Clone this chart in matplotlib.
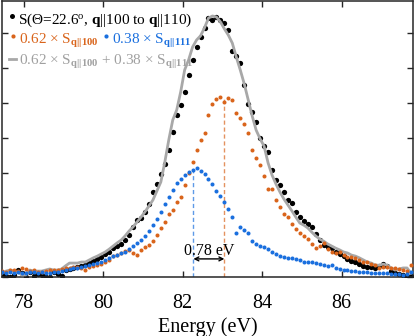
import matplotlib
matplotlib.use('Agg')
import matplotlib.pyplot as plt
import numpy as np
from matplotlib.lines import Line2D

plt.rcParams['font.family'] = ['Liberation Serif', 'DejaVu Serif']
plt.rcParams['mathtext.fontset'] = 'custom'
plt.rcParams['mathtext.rm'] = 'Liberation Serif'
plt.rcParams['mathtext.it'] = 'Liberation Serif:italic'
plt.rcParams['mathtext.bf'] = 'Liberation Serif:bold'

# energy axis (eV), evenly sampled
energy = np.linspace(77.45, 87.75, 104)

# measured spectrum S(theta=22.6, q||100 to q||110)
black = [0.09, 0.03, 0.00, 0.06, 0.20, 0.11, 0.00, 0.14, 0.03, 0.09,
         0.06, 0.00, 0.00, 0.14, 0.09, 0.03, 0.20, 0.23, 0.26, 0.29,
         0.32, 0.34, 0.40, 0.46, 0.52, 0.57, 0.66, 0.72, 0.83, 0.89,
         0.95, 1.06, 1.21, 1.44, 1.64, 1.70, 1.87, 2.10, 2.44, 2.67,
         2.96, 3.25, 3.65, 4.17, 4.66, 4.94, 5.32, 5.80, 6.24, 6.61,
         6.90, 7.16, 7.44, 7.39, 7.47, 7.39, 7.30, 7.10, 6.49, 6.35,
         6.15, 5.52, 4.97, 4.74, 4.45, 3.99, 3.76, 3.59, 3.07, 2.79,
         2.64, 2.44, 2.21, 2.13, 1.87, 1.72, 1.61, 1.52, 1.44, 1.24,
         1.06, 0.92, 0.86, 0.83, 0.72, 0.66, 0.60, 0.52, 0.46, 0.43,
         0.37, 0.32, 0.29, 0.29, 0.26, 0.32, 0.37, 0.32, 0.17, 0.11,
         0.09, 0.06, 0.00, 0.03]

# 0.62 x S_q||100
orange = [0.17, 0.14, 0.20, 0.20, 0.17, 0.26, 0.23, 0.17, 0.20, 0.14,
          0.14, 0.17, 0.20, 0.20, 0.20, 0.23, 0.26, 0.26, 0.29, 0.29,
          0.26, 0.20, 0.29, 0.32, 0.34, 0.37, 0.43, 0.49, 0.60, 0.63,
          0.69, 0.75, 0.78, 0.69, 0.63, 0.78, 0.86, 0.92, 1.03, 1.21,
          1.41, 1.58, 1.81, 1.93, 2.16, 2.30, 2.64, 2.99, 3.30, 3.65,
          3.94, 4.14, 4.66, 4.97, 5.11, 5.17, 5.03, 5.14, 5.09, 4.71,
          4.57, 4.40, 4.14, 3.65, 3.42, 3.22, 2.90, 2.53, 2.53, 2.21,
          2.01, 1.81, 1.72, 1.52, 1.38, 1.26, 1.18, 1.09, 0.95, 0.83,
          0.89, 0.98, 0.80, 0.72, 0.69, 0.72, 0.63, 0.57, 0.57, 0.55,
          0.49, 0.43, 0.43, 0.37, 0.34, 0.26, 0.29, 0.29, 0.26, 0.26,
          0.23, 0.20, 0.17, 0.34]

# 0.38 x S_q||111
blue = [0.14, 0.11, 0.14, 0.11, 0.14, 0.11, 0.11, 0.14, 0.14, 0.11,
        0.14, 0.11, 0.11, 0.14, 0.14, 0.17, 0.20, 0.23, 0.26, 0.26,
        0.29, 0.32, 0.34, 0.37, 0.40, 0.43, 0.49, 0.55, 0.60, 0.63,
        0.69, 0.72, 0.80, 0.89, 0.98, 1.06, 1.18, 1.32, 1.49, 1.67,
        1.87, 2.10, 2.30, 2.50, 2.70, 2.82, 2.93, 3.02, 3.07, 3.13,
        3.05, 2.96, 2.82, 2.67, 2.47, 2.33, 2.16, 1.95, 1.72, 1.26,
        1.44, 1.35, 1.26, 1.03, 0.95, 0.89, 0.86, 0.80, 0.72, 0.66,
        0.60, 0.57, 0.55, 0.55, 0.52, 0.49, 0.43, 0.43, 0.43, 0.40,
        0.37, 0.34, 0.32, 0.34, 0.26, 0.23, 0.20, 0.20, 0.17, 0.17,
        0.14, 0.14, 0.14, 0.11, 0.11, 0.11, 0.11, 0.11, 0.09, 0.09,
        0.09, 0.06, 0.09, 0.14]

# fit 0.62 x S_q||100 + 0.38 x S_q||111
gray = [0.11, 0.17, 0.20, 0.17, 0.14, 0.06, 0.06, 0.20, 0.17, 0.17,
        0.17, 0.20, 0.23, 0.20, 0.20, 0.23, 0.32, 0.40, 0.40, 0.40,
        0.43, 0.43, 0.49, 0.55, 0.60, 0.66, 0.72, 0.80, 0.89, 0.98,
        1.06, 1.18, 1.32, 1.44, 1.58, 1.72, 1.87, 2.04, 2.21, 2.47,
        2.73, 3.30, 3.94, 4.51, 4.80, 5.32, 5.95, 6.24, 6.61, 6.81,
        6.93, 7.16, 7.44, 7.50, 7.47, 7.33, 7.13, 6.95, 6.72, 6.32,
        5.95, 5.55, 5.09, 4.63, 4.22, 3.97, 3.76, 3.28, 2.93, 2.67,
        2.44, 2.24, 2.07, 1.90, 1.72, 1.55, 1.49, 1.41, 1.29, 1.18,
        1.09, 1.03, 0.95, 0.89, 0.83, 0.78, 0.72, 0.69, 0.63, 0.60,
        0.55, 0.49, 0.43, 0.40, 0.34, 0.34, 0.37, 0.34, 0.26, 0.20,
        0.23, 0.26, 0.26, 0.11]

# peak positions (eV)
peak_111 = 82.27
peak_100 = 83.05

c_orange = '#D9641B'
c_blue = '#1A6FDE'
c_gray = '#A8A8A8'
c_gray_txt = '#A0A0A0'

W, H = 415, 336
fig = plt.figure(figsize=(W / 100, H / 100), dpi=100)
ax = fig.add_axes([2 / W, 59 / H, 411 / W, 276 / H])

ax.plot(energy, gray, '-', color=c_gray, lw=2.0, zorder=3)
ax.plot(energy, orange, 'o', color=c_orange, ms=2.9, mew=0, zorder=4)
ax.plot(energy, blue, 'o', color=c_blue, ms=2.9, mew=0, zorder=4)
ax.plot(energy, black, 'o', color='k', ms=3.8, mew=0, zorder=2)

ax.vlines(peak_111, 0, max(blue), colors=c_blue, linestyles=(0, (3, 2)), lw=1, alpha=0.7, zorder=1)
ax.vlines(peak_100, 0, max(orange), colors=c_orange, linestyles=(0, (3, 2)), lw=1, alpha=0.7, zorder=1)
ax.annotate('', xy=(peak_111, 0.52), xytext=(peak_100, 0.52),
            arrowprops=dict(arrowstyle='<->', color='k', lw=1, shrinkA=0, shrinkB=0,
                            mutation_scale=7))
ax.text((peak_111 + peak_100) / 2, 0.64, '%.2f eV' % (peak_100 - peak_111),
        ha='center', va='baseline', fontsize=11.5)

ax.set_xlim(77.45, 87.8)
ax.set_ylim(0, 7.93)
ax.set_xticks([78, 80, 82, 84, 86])
ax.set_yticks(range(8))
ax.set_yticklabels([])
ax.tick_params(direction='in', length=4, width=1, top=True, right=True,
               color='#262626', labelsize=14.5, pad=12)
for s in ax.spines.values():
    s.set_color('#262626')
    s.set_linewidth(1.1)
ax.set_xlabel('Energy (eV)', fontsize=14.5, labelpad=3)

# legend rows, drawn as text plus a sample mark (pixel positions from top-left)
lab_black = r'S($\Theta$=22.6$^{\mathrm{o}}$, $\mathbf{q}$||100 to $\mathbf{q}$||110)'
lab_orange = r'0.62 $\times$ S$_{\mathbf{q||100}}$'
lab_blue = r'0.38 $\times$ S$_{\mathbf{q||111}}$'
lab_gray = r'0.62 $\times$ S$_{\mathbf{q||100}}$ + 0.38 $\times$ S$_{\mathbf{q||111}}$'

def fx(px):
    return px / W

def fy(py):
    return 1 - py / H

rows = [(lab_black, 'k', 18, 24, 'o', 'k', 3.6),
        (lab_orange, c_orange, 19, 44, 'o', c_orange, 3.0),
        (lab_blue, c_blue, 112, 44, 'o', c_blue, 3.0),
        (lab_gray, c_gray_txt, 19, 65, '-', c_gray, 0)]
for lab, col, tx, ty, mk, mcol, ms in rows:
    fig.text(fx(tx), fy(ty), lab, color=col, fontsize=11, ha='left', va='baseline')
    if mk == 'o':
        fig.add_artist(Line2D([fx(tx - 6)], [fy(ty - 8)], marker='o', ms=ms, mew=0,
                              color=mcol, transform=fig.transFigure))
    else:
        fig.add_artist(Line2D([fx(tx - 10), fx(tx - 3)], [fy(ty - 6), fy(ty - 6)], lw=2,
                              color=mcol, transform=fig.transFigure))

fig.savefig('out.png', dpi=100)
